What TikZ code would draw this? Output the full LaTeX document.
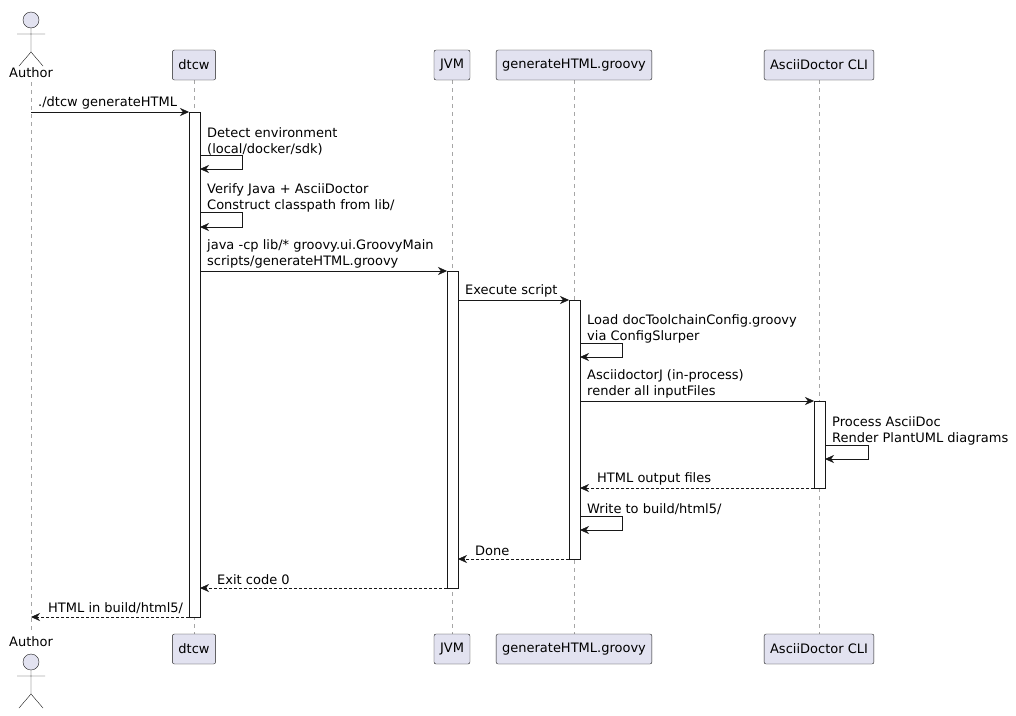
\documentclass[tikz,border=0pt]{standalone}
\usepackage{fontspec}
\setmainfont{DejaVu Sans}
\usetikzlibrary{positioning,arrows.meta}
\definecolor{partFill}{HTML}{E2E2F0}
\definecolor{partLine}{HTML}{181818}
\tikzstyle{part}=[draw=partLine, fill=partFill, rounded corners=2pt, minimum height=30pt, inner xsep=6pt, font=\fontsize{13}{15}\selectfont]
\tikzstyle{act}=[draw=partLine, fill=white]
\tikzstyle{life}=[draw=gray!70, dashed, dash pattern=on 4pt off 4pt]
\tikzstyle{msg}=[-{Stealth[length=9pt,width=8pt]}, partLine]
\tikzstyle{ret}=[msg, dashed, dash pattern=on 3pt off 2pt]
\tikzstyle{lbl}=[anchor=south west, inner sep=0pt, align=left, font=\fontsize{13}{15.5}\selectfont]
\tikzset{
  actor/.pic={
    \draw[partLine, fill=partFill] (0,0) circle (8);
    \draw[partLine] (0,8) -- (0,32) (-14,14) -- (14,14) (0,32) -- (-12,46) (0,32) -- (12,46);
  }
}
\begin{document}
\begin{tikzpicture}[x=1pt,y=-1pt]
  \useasboundingbox (0,0) rectangle (1016,715);
  % lifelines
  \draw[life] (31,82) -- (31,632);
  \foreach \x in {194,452,574,819} \draw[life] (\x,80) -- (\x,634);

  % participants
  \pic at (31,20) {actor};
  \node[font=\fontsize{13}{15}\selectfont] (authT) at (31,73) {Author};
  \pic at (31,662) {actor};
  \node[font=\fontsize{13}{15}\selectfont] (authB) at (31,642) {Author};
  \foreach \n/\x/\t in {dtcw/194/dtcw, jvm/452/JVM, gen/574/generateHTML.groovy, adoc/819/AsciiDoctor CLI}{
    \node[part] (\n T) at (\x,65) {\t};
    \node[part] (\n B) at (\x,649) {\t};
  }

  % activations
  \draw[act] (189,112) rectangle (200,617);
  \draw[act] (447,271) rectangle (458,588);
  \draw[act] (569,300) rectangle (580,559);
  \draw[act] (814,401) rectangle (825,488);

  % calls
  \coordinate (a1) at (31,112); \coordinate (d1) at (189,112);
  \draw[msg] (a1) -- (d1);
  \node[lbl] at (38,109) {./dtcw generateHTML};

  \node[lbl] at (207,155) {Detect environment\\(local/docker/sdk)};
  \draw[msg] (200,155) -- (242,155) -- (242,169) -- (200,169);
  \node[lbl] at (207,212) {Verify Java + AsciiDoctor\\Construct classpath from lib/};
  \draw[msg] (200,212) -- (242,212) -- (242,227) -- (200,227);

  \coordinate (d2) at (200,271); \coordinate (j1) at (447,271);
  \draw[msg] (d2) -- (j1);
  \node[lbl] at (207,268) {java -cp lib/* groovy.ui.GroovyMain\\scripts/generateHTML.groovy};

  \coordinate (j2) at (458,300); \coordinate (g1) at (569,300);
  \draw[msg] (j2) -- (g1);
  \node[lbl] at (465,297) {Execute script};

  \node[lbl] at (587,343) {Load docToolchainConfig.groovy\\via ConfigSlurper};
  \draw[msg] (580,343) -- (622,343) -- (622,357) -- (580,357);

  \coordinate (g2) at (580,401); \coordinate (c1) at (814,401);
  \draw[msg] (g2) -- (c1);
  \node[lbl] at (587,398) {AsciidoctorJ (in-process)\\render all inputFiles};

  \node[lbl] at (832,445) {Process AsciiDoc\\Render PlantUML diagrams};
  \draw[msg] (825,445) -- (868,445) -- (868,459) -- (825,459);

  % returns
  \coordinate (c2) at (814,488); \coordinate (g3) at (580,488);
  \draw[ret] (c2) -- (g3);
  \node[lbl] at (597,485) {HTML output files};

  \node[lbl] at (587,515) {Write to build/html5/};
  \draw[msg] (580,516) -- (622,516) -- (622,530) -- (580,530);

  \coordinate (g4) at (569,559); \coordinate (j3) at (458,559);
  \draw[ret] (g4) -- (j3);
  \node[lbl] at (475,556) {Done};

  \coordinate (j4) at (447,588); \coordinate (d3) at (200,588);
  \draw[ret] (j4) -- (d3);
  \node[lbl] at (217,585) {Exit code 0};

  \coordinate (d4) at (189,617); \coordinate (a2) at (31,617);
  \draw[ret] (d4) -- (a2);
  \node[lbl] at (48,614) {HTML in build/html5/};
\end{tikzpicture}
\end{document}
